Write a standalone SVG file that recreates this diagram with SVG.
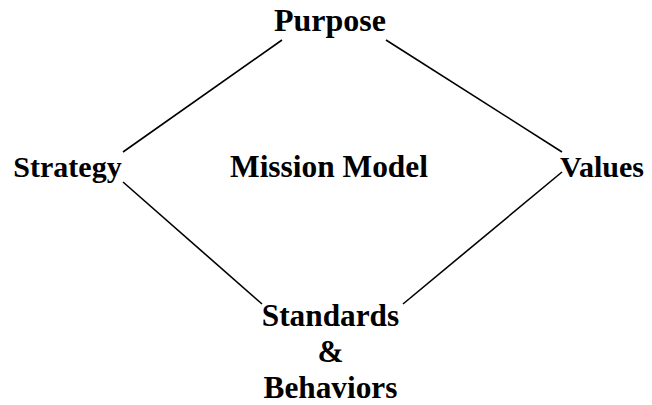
<svg xmlns="http://www.w3.org/2000/svg" width="652" height="405" viewBox="0 0 652 405">
<style>
.lbl{font-family:"Liberation Serif","Times New Roman",serif;font-weight:bold;fill:#000;text-anchor:middle}
.con line{stroke:#000;stroke-width:1.6;fill:none}
</style>
<rect width="652" height="405" fill="#fff"/>
<g class="con" id="connectors">
<line x1="282" y1="40" x2="123" y2="152"/>
<line x1="386" y1="40" x2="562" y2="152"/>
<line x1="123" y1="182" x2="262" y2="304"/>
<line x1="562" y1="172" x2="403" y2="304"/>
</g>
<g id="purpose"><text class="lbl" x="330" y="31" font-size="32">Purpose</text></g>
<g id="strategy"><text class="lbl" x="67.5" y="177" font-size="30">Strategy</text></g>
<g id="mission"><text class="lbl" x="329" y="177" font-size="31.4">Mission Model</text></g>
<g id="values"><text class="lbl" x="602" y="177" font-size="30">Values</text></g>
<g id="standards">
<text class="lbl" x="330.5" y="326" font-size="31.3">Standards</text>
<text class="lbl" x="330.5" y="362" font-size="31.3">&amp;</text>
<text class="lbl" x="330.5" y="398" font-size="31.3">Behaviors</text>
</g>
</svg>
